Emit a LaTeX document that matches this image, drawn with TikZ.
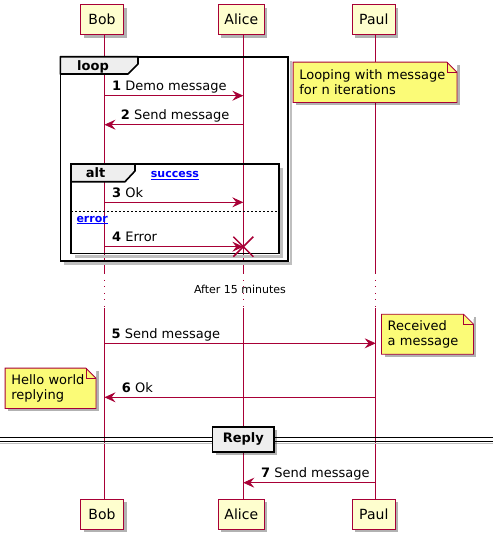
\documentclass[tikz,border=0pt]{standalone}
\usepackage{fontspec}
\setmainfont{DejaVu Sans}
\usetikzlibrary{arrows.meta,shadows}
\definecolor{pred}{HTML}{A80036}
\definecolor{pfill}{HTML}{FEFECE}
\definecolor{nfill}{HTML}{FBFB77}
\definecolor{tabfill}{HTML}{EEEEEE}
\tikzset{
  myshadow/.style={drop shadow={shadow xshift=3pt, shadow yshift=-3pt, fill=black, opacity=0.3}},
  part/.style={draw=pred, fill=pfill, line width=1pt, minimum height=30pt, inner sep=0pt,
    font=\fontsize{14}{16}\selectfont, myshadow},
  life/.style={draw=pred, line width=0.8pt},
  lifedot/.style={draw=pred, line width=0.8pt, dash pattern=on 1pt off 5.5pt},
  msg/.style={draw=pred, line width=0.8pt, -{Stealth[length=11pt,width=10pt,inset=4pt]}},
  lbl/.style={inner sep=0pt, anchor=base west, font=\fontsize{13}{15}\selectfont},
  frame/.style={draw=black, line width=1.6pt},
  fshadow/.style={draw=black!25, line width=2.5pt},
  tab/.style={fill=tabfill, draw=black, line width=1.6pt, line join=round},
  tablbl/.style={inner sep=0pt, anchor=base, font=\fontsize{13}{15}\selectfont\bfseries},
  guard/.style={inner sep=0pt, anchor=base west, text=blue, font=\fontsize{11}{13}\selectfont\bfseries},
  note/.style={fill=nfill, inner xsep=6pt, inner ysep=0pt, align=left,
    font=\fontsize{13}{15}\selectfont, myshadow},
  noteline/.style={draw=pred, line width=0.8pt},
  xmark/.style={draw=pred, line width=1.5pt},
  divbox/.style={fill=tabfill, draw=black, line width=1.6pt, minimum width=61.3pt,
    minimum height=25pt, inner sep=0pt, font=\fontsize{13}{15}\selectfont\bfseries, myshadow},
}
\begin{document}
\begin{tikzpicture}[x=1pt,y=-1pt]
\useasboundingbox (0,0) rectangle (493,542);
\def\xb{104.5}
\def\xa{243.3}
\def\xp{375.7}

% participants
\node[part, minimum width=43pt] (bobT) at (102,19.7) {Bob};
\node[part, minimum width=46pt] (aliceT) at (241.3,19.7) {Alice};
\node[part, minimum width=43pt] (paulT) at (373.8,19.7) {Paul};
\node[part, minimum width=43pt] (bobB) at (102,514.3) {Bob};
\node[part, minimum width=46pt] (aliceB) at (241.3,514.3) {Alice};
\node[part, minimum width=43pt] (paulB) at (373.8,514.3) {Paul};

% delay text
\node[font=\fontsize{11}{13}\selectfont, inner sep=0pt] (delay) at (240,289) {After 15 minutes};

% lifelines
\coordinate (bob1) at (\xb,273.3);  \coordinate (bob2) at (\xb,308.3);
\coordinate (alice1) at (\xa,273.3); \coordinate (alice2) at (\xa,308.3);
\coordinate (paul1) at (\xp,273.3);  \coordinate (paul2) at (\xp,308.3);
\foreach \p in {bob,alice,paul}{
  \draw[life] (\p T.south -| \p1) -- (\p1);
  \draw[lifedot] (\p1) -- (\p2);
  \draw[life] (\p2) -- (\p B.north -| \p2);
}

% loop frame
\draw[fshadow] (291,61) -- (291,263.7) -- (64,263.7);
\draw[frame] (60.3,56.7) rectangle (288,260.7);
\draw[tab] (60.3,56.7) -- (138,56.7) -- (138,64) -- (128,74) -- (60.3,74) -- cycle;
\node[tablbl] (loopl) at (93,70.3) {loop};

% alt frame
\draw[fshadow] (281.7,168) -- (281.7,256.3) -- (75,256.3);
\draw[frame] (71,164) rectangle (278.7,253.3);
\draw[tab] (71,164) -- (135,164) -- (135,171) -- (125,181.7) -- (71,181.7) -- cycle;
\node[tablbl] (altl) at (95.5,177.8) {alt};
\node[guard] (succ) at (150.7,177.3) {\underline{success}};
\draw[black, line width=0.8pt, dash pattern=on 2pt off 2pt] (71,211) -- (278.7,211);
\node[guard] (err) at (76.3,222) {\underline{error}};

% messages
\coordinate (m1s) at (\xb,95.7);  \coordinate (m1e) at (\xa,95.7);
\coordinate (m2s) at (\xa,124.7); \coordinate (m2e) at (\xb,124.7);
\coordinate (m3s) at (\xb,202.3); \coordinate (m3e) at (\xa,202.3);
\coordinate (m4s) at (\xb,246.7); \coordinate (m4e) at (\xa,246.7);
\coordinate (m5s) at (\xb,343.3); \coordinate (m5e) at (\xp,343.3);
\coordinate (m6s) at (\xp,397.3); \coordinate (m6e) at (\xb,397.3);
\coordinate (m7s) at (\xp,482.7); \coordinate (m7e) at (\xa,482.7);

\draw[msg] (m1s) -- (m1e);
\node[lbl] (l1) at (112,90.7) {\textbf{1} Demo message};
\draw[msg] (m2s) -- (m2e);
\node[lbl] (l2) at (120.7,119.7) {\textbf{2} Send message};
\draw[msg] (m3s) -- (m3e);
\node[lbl] (l3) at (112,197.3) {\textbf{3} Ok};
\draw[msg] (m4s) -- (m4e);
\node[lbl] (l4) at (112,241.7) {\textbf{4} Error};
\draw[xmark] (m4e) ++(-10pt,-10pt) -- ++(20pt,20pt);
\draw[xmark] (m4e) ++(-10pt,10pt) -- ++(20pt,-20pt);
\draw[msg] (m5s) -- (m5e);
\node[lbl] (l5) at (111.5,338.3) {\textbf{5} Send message};
\draw[msg] (m6s) -- (m6e);
\node[lbl] (l6) at (121.7,392.3) {\textbf{6} Ok};
\draw[msg] (m7s) -- (m7e);
\node[lbl] (l7) at (261,477.7) {\textbf{7} Send message};

% notes
\foreach \n/\cx/\cy/\w/\h/\t in {
  n1/375/82.3/163.4/40/{Looping with message\\for n iterations},
  n2/427.5/334.2/91.6/39.7/{Received\\a message},
  n3/50.5/388.3/90.4/40/{Hello world\\replying}}{
  \pgfmathsetmacro{\tw}{\w-12}
  \node[note, minimum width=\w pt, minimum height=\h pt, text width=\tw pt] (\n) at (\cx,\cy) {\t};
  \fill[white] ([xshift=-10pt]\n.north east) -- ([xshift=0.5pt,yshift=0.5pt]\n.north east) -- ([yshift=-10pt]\n.north east) -- cycle;
  \draw[noteline] (\n.north west) -- ([xshift=-10pt]\n.north east) -- ([yshift=-10pt]\n.north east) -- (\n.south east) -- (\n.south west) -- cycle;
  \draw[noteline] ([xshift=-10pt]\n.north east) -- ([xshift=-10pt,yshift=-10pt]\n.north east) -- ([yshift=-10pt]\n.north east);
}

% divider
\draw[black!25, line width=1.2pt] (0,443.5) -- (493,443.5);
\draw[black, line width=0.9pt] (0,437) -- (493,437);
\draw[black, line width=0.9pt] (0,441) -- (493,441);
\node[divbox] (reply) at (243.3,439.2) {Reply};
\end{tikzpicture}
\end{document}
